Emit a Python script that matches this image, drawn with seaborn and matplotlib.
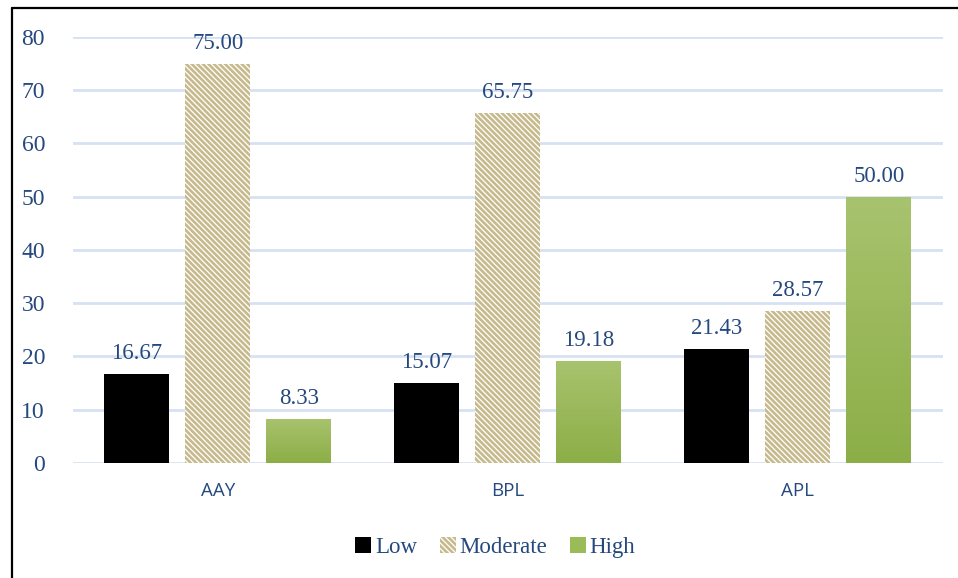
import matplotlib
matplotlib.use("Agg")
import matplotlib.pyplot as plt
from matplotlib.patches import Patch
from matplotlib.lines import Line2D
from matplotlib.colors import LinearSegmentedColormap
import numpy as np
import pandas as pd
import seaborn as sns

# Data
categories = ["AAY", "BPL", "APL"]
levels = ["Low", "Moderate", "High"]
low_vals = [16.67, 15.07, 21.43]
moderate_vals = [75.00, 65.75, 28.57]
high_vals = [8.33, 19.18, 50.00]

df = pd.DataFrame({
    "group": categories * 3,
    "level": [levels[0]] * 3 + [levels[1]] * 3 + [levels[2]] * 3,
    "value": low_vals + moderate_vals + high_vals,
})

text_blue = "#25497E"
grid_blue = "#D6E1F1"
tan = "#C6B98C"
green = "#9BBB59"
stripe = "\\" * 6

sns.set_theme(style="white")
plt.rcParams["font.family"] = ["Liberation Serif", "DejaVu Serif"]
plt.rcParams["hatch.linewidth"] = 1.9
plt.rcParams["hatch.color"] = tan

fig = plt.figure(figsize=(9.58, 5.78), dpi=100)
ax = fig.add_axes([0.076, 0.199, 0.908, 0.737])

palette = {"Low": "black", "Moderate": "white", "High": green}
sns.barplot(data=df, x="group", y="value", hue="level", hue_order=levels,
            order=categories, palette=palette, width=0.84, gap=0.2,
            legend=False, ax=ax, linewidth=0, errorbar=None, saturation=1)

# style bars per level
n = len(categories)
cmap = LinearSegmentedColormap.from_list("g", ["#8CAE47", "#A8C36E"])
for i, patch in enumerate(ax.patches[: 3 * n]):
    lvl = levels[i // n]
    if lvl == "Moderate":
        patch.set_facecolor("white")
        patch.set_hatch(stripe)
        patch.set_edgecolor(tan)
        patch.set_linewidth(0)
    elif lvl == "High":
        # vertical gradient fill, lighter at top
        x0, y0 = patch.get_x(), patch.get_y()
        w, h = patch.get_width(), patch.get_height()
        grad = np.linspace(0, 1, 256).reshape(-1, 1)
        im = ax.imshow(grad, extent=[x0, x0 + w, y0, y0 + h], origin="lower",
                       aspect="auto", cmap=cmap, zorder=patch.get_zorder() + 0.1)
        im.set_clip_path(patch)

# value labels
for container in ax.containers:
    ax.bar_label(container, fmt="%.2f", padding=7, fontsize=16.5, color=text_blue)

ax.set_xlim(-0.5, 2.5)
ax.set_ylim(0, 80)
ax.set_yticks(range(0, 81, 10))
ax.yaxis.grid(True, color=grid_blue, linewidth=2)
ax.set_axisbelow(True)
for s in ax.spines.values():
    s.set_visible(False)
ax.set_xlabel("")
ax.set_ylabel("")
ax.tick_params(axis="y", labelsize=17, labelcolor=text_blue, length=0, pad=20)
ax.tick_params(axis="x", length=0, pad=14)
for lab in ax.get_xticklabels():
    lab.set_fontfamily(["Open Sans", "DejaVu Sans"])
    lab.set_fontsize(13.5)
    lab.set_color(text_blue)

handles = [
    Patch(facecolor="black", edgecolor="none", label="Low"),
    Patch(facecolor="white", edgecolor=tan, hatch=stripe, linewidth=0, label="Moderate"),
    Patch(facecolor=green, edgecolor="none", label="High"),
]
leg = fig.legend(handles=handles, loc="center", bbox_to_anchor=(0.517, 0.053),
                 ncol=3, frameon=False, handlelength=0.7,
                 handleheight=0.7, handletextpad=0.15, columnspacing=1.0,
                 prop={"family": ["Liberation Serif", "DejaVu Serif"], "size": 16.5})
for t in leg.get_texts():
    t.set_color(text_blue)

# frame lines along the left and top edges
fig.add_artist(Line2D([0.0125, 0.0125], [0.0, 0.986], transform=fig.transFigure,
                      color="black", linewidth=1.6))
fig.add_artist(Line2D([0.0125, 1.0], [0.986, 0.986], transform=fig.transFigure,
                      color="black", linewidth=1.6))

fig.savefig("out.png", dpi=100, facecolor="white")
